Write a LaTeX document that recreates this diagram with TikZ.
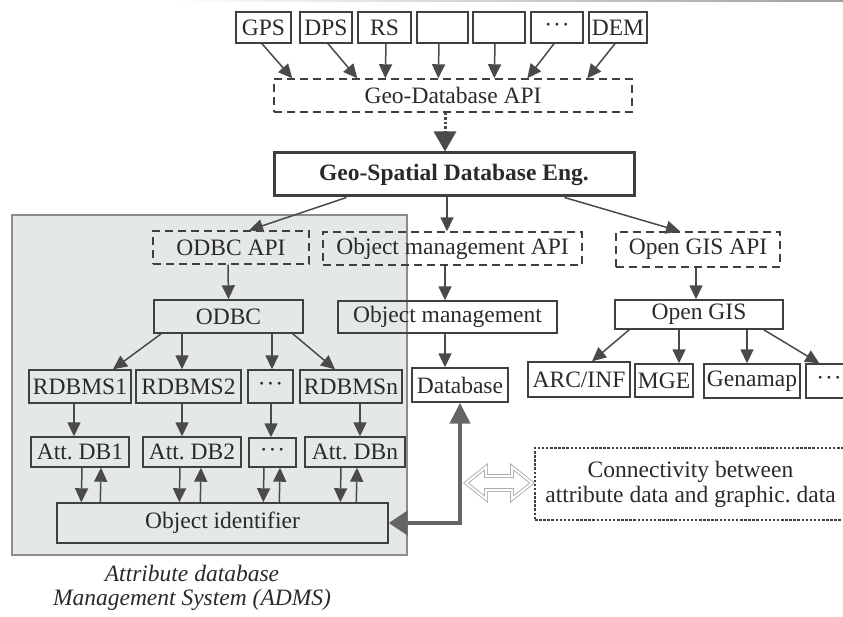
\documentclass[tikz,border=0pt]{standalone}
\usepackage{fontspec}
\setmainfont{Liberation Serif}
\usetikzlibrary{arrows.meta,calc}
\definecolor{ink}{HTML}{2A2A2A}
\definecolor{linec}{HTML}{404040}
\definecolor{arrc}{HTML}{4A4A4A}
\definecolor{admsfill}{HTML}{E4E9E6}
\definecolor{admsline}{HTML}{8C8C8C}
\definecolor{linkc}{HTML}{646664}
\newcommand\mdots{\textperiodcentered\kern1pt\textperiodcentered\kern1pt\textperiodcentered}

\begin{document}
\begin{tikzpicture}[x=1pt,y=-1pt,
  font=\fontsize{23.5}{27}\selectfont, text=ink,
  sz/.style 2 args={minimum width=#1pt, minimum height=#2pt, inner sep=0pt},
  box/.style={draw=linec, line width=1.4pt},
  dbox/.style={draw=linec, line width=1.4pt, dash pattern=on 8pt off 5pt},
  arr/.style={draw=arrc, line width=1.5pt, -{Triangle[length=14pt,width=13pt]}},
  link/.style={draw=linkc, line width=4.5pt,
    {Triangle[length=19pt,width=24pt]}-{Triangle[length=21pt,width=20pt]}},
]
\useasboundingbox (0,0) rectangle (843,617);

% faint page edge at the top
\shade[left color=white, right color=gray!75] (170,0) rectangle (843,2);

% ADMS area
\node[sz={395}{340}, fill=admsfill, draw=admsline, line width=1.3pt] (adms) at (209.5,385) {};
\node[font=\fontsize{23.5}{23.5}\selectfont\itshape, align=center] (cap) at (192,588)
  {Attribute database\\Management System (ADMS)};

% data sources
\node[box, sz={55}{31}] (gps) at (263.5,27.5) {GPS};
\node[box, sz={52}{31}] (dps) at (326,27.5) {DPS};
\node[box, sz={53}{31}] (rs) at (384.5,27.5) {RS};
\node[box, sz={51}{31}] (ea) at (442.5,27.5) {};
\node[box, sz={52}{31}] (eb) at (499,27.5) {};
\node[box, sz={52}{31}] (tdots) at (557,27.5) {\mdots};
\node[box, sz={58}{31}] (dem) at (618,27.5) {DEM};

\node[dbox, sz={358}{33}] (api) at (453,95.5) {Geo-Database API};
\node[draw=linec, line width=3pt, sz={360}{43}, font=\fontsize{23.5}{27}\selectfont\bfseries] (gse) at (454,174.5) {Geo-Spatial Database Eng.};

% API layer
\node[dbox, sz={156}{33}] (odbcapi) at (231,247.5) {ODBC API};
\node[dbox, sz={259}{33}] (omapi) at (452.5,248.5) {Object management API};
\node[dbox, sz={164}{35}] (ogapi) at (698,249.5) {Open GIS API};

\node[box, sz={149}{33}] (odbc) at (228.5,316.5) {ODBC};
\node[box, sz={219}{32}] (om) at (447.5,317) {Object management};
\node[box, sz={168}{29}] (og) at (699,314.5) {Open GIS};

\node[box, sz={102}{33}] (r1) at (80,386.5) {RDBMS1};
\node[box, sz={105}{33}] (r2) at (188.5,386.5) {RDBMS2};
\node[box, sz={45}{33}] (rdots) at (270.5,386.5) {\mdots};
\node[box, sz={102}{33}] (rn) at (351,386.5) {RDBMSn};
\node[box, sz={96}{34}] (db) at (460,385) {Database};
\node[box, sz={102}{35}] (arc) at (579,379.5) {ARC/INF};
\node[box, sz={58}{33}] (mge) at (664,380.5) {MGE};
\node[box, sz={96}{34}] (gena) at (752,381) {Genamap};
\node[box, sz={46}{34}] (odots) at (829,381) {\mdots};

\node[box, sz={98}{30}] (a1) at (80,452) {Att.\ DB1};
\node[box, sz={98}{30}] (a2) at (192,452) {Att.\ DB2};
\node[box, sz={47}{29}] (adots) at (272.5,452.5) {\mdots};
\node[box, sz={100}{30}] (an) at (355,452) {Att.\ DBn};
\node[box, sz={331}{40}] (oid) at (222.5,523) {Object identifier};

\node[draw=linec, line width=1.3pt, dash pattern=on 2.5pt off 1.6pt, sz={311}{72},
  align=center, font=\fontsize{23.5}{25}\selectfont] (conn) at (690.5,484)
  {Connectivity between\\attribute data and graphic.\ data};

% sources into the Geo-Database API
\draw[arr] ([xshift=-1.5pt]gps.south) -- ([xshift=19pt]api.north west);
\draw[arr] ([xshift=2pt]dps.south) -- ([xshift=84pt]api.north west);
\draw[arr] ([xshift=1.5pt]rs.south) -- ([xshift=112pt]api.north west);
\draw[arr] ([xshift=-3.5pt]ea.south) -- ([xshift=165pt]api.north west);
\draw[arr] ([xshift=-4pt]eb.south) -- ([xshift=221pt]api.north west);
\draw[arr] ([xshift=-3pt]tdots.south) -- ([xshift=254pt]api.north west);
\draw[arr] ([xshift=-3pt]dem.south) -- ([xshift=314pt]api.north west);

\draw[draw=arrc, line width=3pt, dash pattern=on 2.6pt off 2pt,
  -{Triangle[length=20pt,width=22pt]}] ([xshift=-8pt]api.south) -- ([xshift=-9pt]gse.north);

% engine to the three APIs
\draw[arr] ([xshift=74pt]gse.south west) -- ([xshift=18pt]odbcapi.north);
\draw[arr] ([xshift=-7pt]gse.south) -- ([xshift=-5.5pt]omapi.north);
\draw[arr] ([xshift=-71pt]gse.south east) -- ([xshift=-18pt]ogapi.north);

\draw[arr] ([xshift=-3pt]odbcapi.south) -- (odbc.north);
\draw[arr] ([xshift=-7.5pt]omapi.south) -- ([xshift=-2.5pt]om.north);
\draw[arr] ([xshift=-2pt]ogapi.south) -- ([xshift=-3pt]og.north);

% ODBC drivers
\draw[arr] ([xshift=8pt]odbc.south west) -- ([xshift=33pt]r1.north);
\draw[arr] ([xshift=-46.5pt]odbc.south) -- ([xshift=-6.5pt]r2.north);
\draw[arr] ([xshift=43.5pt]odbc.south) -- ([xshift=1.5pt]rdots.north);
\draw[arr] ([xshift=-11pt]odbc.south east) -- ([xshift=-16pt]rn.north);

\draw[arr] ([xshift=-2.5pt]om.south) -- ([xshift=-15pt]db.north);

% Open GIS products
\draw[arr] ([xshift=15pt]og.south west) -- ([xshift=13pt]arc.north);
\draw[arr] ([xshift=-20pt]og.south) -- ([xshift=15pt]mge.north);
\draw[arr] ([xshift=48pt]og.south) -- ([xshift=-5pt]gena.north);
\draw[arr] ([xshift=-20pt]og.south east) -- ([xshift=14pt]odots.north west);

% RDBMS to attribute databases
\draw[arr] ([xshift=-6pt]r1.south) -- ([xshift=-6pt]a1.north);
\draw[arr] ([xshift=-6.5pt]r2.south) -- ([xshift=-10pt]a2.north);
\draw[arr] ([xshift=0.5pt]rdots.south) -- ([xshift=-1.5pt]adots.north);
\draw[arr] ([xshift=9pt]rn.south) -- ([xshift=5pt]an.north);

% attribute databases and the object identifier
\draw[arr] ([xshift=2pt]a1.south) -- ([xshift=25pt]oid.north west);
\draw[arr] ([xshift=44pt]oid.north west) -- ([xshift=21pt]a1.south);
\draw[arr] ([xshift=-12pt]a2.south) -- ([xshift=123pt]oid.north west);
\draw[arr] ([xshift=144pt]oid.north west) -- ([xshift=9pt]a2.south);
\draw[arr] ([xshift=-8.5pt]adots.south) -- ([xshift=207pt]oid.north west);
\draw[arr] ([xshift=223pt]oid.north west) -- ([xshift=7.5pt]adots.south);
\draw[arr] ([xshift=-14pt]an.south) -- ([xshift=284pt]oid.north west);
\draw[arr] ([xshift=300pt]oid.north west) -- ([xshift=2pt]an.south);

% link between attribute and graphic data
\draw[link] (oid.east) -- (db.south |- oid.east) -- (db.south);

% hollow double arrow
\draw[draw=gray!65, double=white, double distance=2pt, line width=0.9pt, line join=miter]
  (466,483) -- (486,467) -- (486,476) -- (512,476) -- (512,467) -- (532,483)
  -- (512,499) -- (512,490) -- (486,490) -- (486,499) -- cycle;
\end{tikzpicture}
\end{document}
